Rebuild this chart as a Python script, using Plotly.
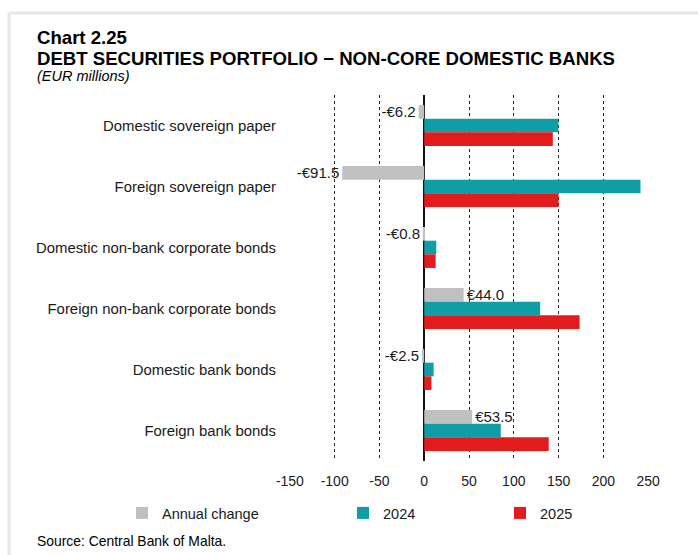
import plotly.graph_objects as go

# Debt securities held by non-core domestic banks (EUR millions)
categories = [
    "Domestic sovereign paper",
    "Foreign sovereign paper",
    "Domestic non-bank corporate bonds",
    "Foreign non-bank corporate bonds",
    "Domestic bank bonds",
    "Foreign bank bonds",
]
annual_change = [-6.2, -91.5, -0.8, 44.0, -2.5, 53.5]
values_2024 = [149.8, 241.5, 13.5, 129.5, 10.5, 85.5]
values_2025 = [143.6, 150.0, 12.7, 173.5, 8.0, 139.0]

tick_values = [-150, -100, -50, 0, 50, 100, 150, 200, 250]
tick_labels = ["-150", "-100", "-50", "0", "50", "100", "150", "200", "250"]

GREY = "#c0c0c0"
TEAL = "#0f9ea5"
RED = "#e31b1c"
FONT = "Liberation Sans, Arial, sans-serif"
TEXT = "#1a1a1a"

# page geometry (pixels) used to place the furniture around the plot area
WIDTH, HEIGHT = 698, 555
L, R, T, B = 289, 49, 95, 94
PW, PH = WIDTH - L - R, HEIGHT - T - B


def px(x):
    return (x - L) / PW


def py(y):
    return (HEIGHT - B - y) / PH


def euro(v):
    return ("-" if v < 0 else "") + "€" + f"{abs(v):.1f}"


fig = go.Figure()
fig.add_trace(go.Bar(
    y=categories, x=annual_change, orientation="h", name="Annual change",
    marker=dict(color=GREY, line=dict(width=0)),
    text=[euro(v) for v in annual_change], textposition="outside",
    textfont=dict(family=FONT, size=15, color=TEXT),
    constraintext="none", cliponaxis=False, legend="legend",
))
fig.add_trace(go.Bar(
    y=categories, x=values_2024, orientation="h", name="2024",
    marker=dict(color=TEAL, line=dict(width=0)), legend="legend2",
))
fig.add_trace(go.Bar(
    y=categories, x=values_2025, orientation="h", name="2025",
    marker=dict(color=RED, line=dict(width=0)), legend="legend3",
))

legend_common = dict(
    orientation="h", yanchor="middle", xanchor="left",
    font=dict(family=FONT, size=14.5, color=TEXT),
    bgcolor="rgba(0,0,0,0)", borderwidth=0,
)

fig.update_layout(
    width=WIDTH, height=HEIGHT,
    margin=dict(l=L, r=R, t=T, b=B, autoexpand=False),
    paper_bgcolor="white", plot_bgcolor="white",
    barmode="group", bargap=0.33, bargroupgap=0,
    font=dict(family=FONT, color=TEXT),
    xaxis=dict(
        range=[-151, 251], tickvals=tick_values, ticktext=tick_labels,
        showgrid=True, gridcolor="#222222", gridwidth=1, griddash="3px,3px",
        zeroline=True, zerolinecolor="#111111", zerolinewidth=2,
        showline=False, ticks="", ticklabelstandoff=10,
        tickfont=dict(family=FONT, size=14, color=TEXT),
    ),
    yaxis=dict(
        autorange="reversed", showgrid=False, zeroline=False, showline=False,
        ticks="", ticklabelstandoff=12,
        tickfont=dict(family=FONT, size=14.9, color=TEXT),
    ),
    legend=dict(x=px(122), y=py(513), **legend_common),
    legend2=dict(x=px(343), y=py(513), **legend_common),
    legend3=dict(x=px(500), y=py(513), **legend_common),
    showlegend=True,
)

# panel frame: light rules along the top and left edges
frame = dict(type="line", xref="paper", yref="paper",
             line=dict(color="#e6e6e6", width=3), layer="below")
fig.add_shape(x0=px(9), x1=px(WIDTH), y0=py(13), y1=py(13), **frame)
fig.add_shape(x0=px(9), x1=px(9), y0=py(13), y1=py(HEIGHT), **frame)

# heading, unit note and source
notes = [
    ("<b>Chart 2.25</b>", 37, 18.6, "normal"),
    ("<b>DEBT SECURITIES PORTFOLIO − NON-CORE DOMESTIC BANKS</b>", 58, 18.6, "normal"),
    ("(EUR millions)", 76, 14.5, "italic"),
    ("Source: Central Bank of Malta.", 541, 13.9, "normal"),
]
for text, y, size, style in notes:
    fig.add_annotation(
        text=text, xref="paper", yref="paper", x=px(35), y=py(y),
        xanchor="left", yanchor="middle", showarrow=False,
        font=dict(family=FONT, size=size, color="#000000", style=style),
    )

fig.write_html("out.html")
